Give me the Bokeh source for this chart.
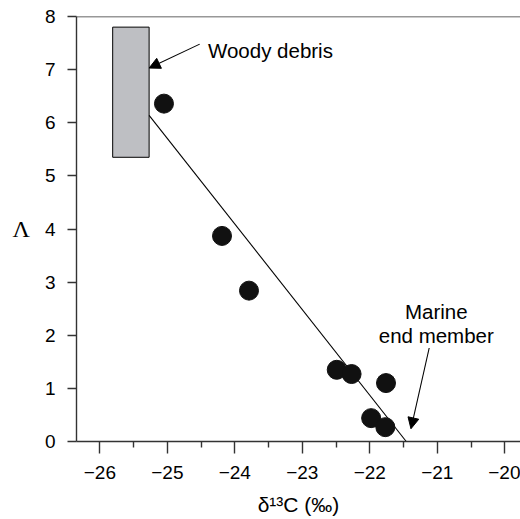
from bokeh.plotting import figure
from bokeh.models import FixedTicker, Range1d, Arrow, NormalHead, Label, Span
from bokeh.embed import file_html
from bokeh.resources import INLINE

# ---- data ----
sample_x = [-25.05, -24.19, -23.79, -22.49, -22.27, -21.76, -21.98, -21.77]
sample_y = [6.36, 3.87, 2.84, 1.35, 1.27, 1.10, 0.44, 0.27]

wood_x = [-25.81, -25.27]      # left, right of woody debris box
wood_y = [5.35, 7.80]          # bottom, top of woody debris box

mix_x = [-25.27, -21.46]       # mixing line
mix_y = [6.14, 0.0]

x_ticks = [-26, -25, -24, -23, -22, -21, -20]
x_tick_labels = ["\u221226", "\u221225", "\u221224", "\u221223", "\u221222", "\u221221", "\u221220"]
x_minor = [-25.5, -24.5, -23.5, -22.5, -21.5, -20.5]
y_ticks = [0, 1, 2, 3, 4, 5, 6, 7, 8]

wood_label = "Woody debris"
marine_label = ["Marine", "end member"]
x_title = "\u03b4\u00b9\u00b3C (\u2030)"
y_title = "\u039b"

FONT = "Liberation Sans"
AX = "#333333"

p = figure(width=520, height=519,
           x_range=Range1d(-26.346, -19.767), y_range=Range1d(0, 8),
           output_backend="svg", toolbar_location=None,
           min_border_left=76, min_border_right=0,
           min_border_top=16, min_border_bottom=78)
p.grid.visible = False
p.outline_line_color = None
p.background_fill_color = "white"
p.border_fill_color = "white"

# axes
for ax in (p.xaxis[0], p.yaxis[0]):
    ax.axis_line_color = AX
    ax.axis_line_width = 1.4
    ax.major_tick_line_color = AX
    ax.major_tick_line_width = 1.4
    ax.minor_tick_line_color = AX
    ax.minor_tick_line_width = 1.4
    ax.major_tick_in = 0
    ax.minor_tick_in = 0
    ax.major_label_text_font = FONT
    ax.major_label_text_font_size = "19px"
    ax.major_label_text_color = "black"
    ax.axis_label_text_font_style = "normal"
    ax.axis_label_text_color = "black"

xa = p.xaxis[0]
xa.ticker = FixedTicker(ticks=x_ticks, minor_ticks=x_minor)
xa.major_label_overrides = {t: s for t, s in zip(x_ticks, x_tick_labels)}
xa.major_tick_out = 12
xa.minor_tick_out = 6
xa.major_label_standoff = 12
xa.axis_label = x_title
xa.axis_label_text_font = FONT
xa.axis_label_text_font_size = "21px"
xa.axis_label_standoff = 11

ya = p.yaxis[0]
ya.ticker = FixedTicker(ticks=y_ticks, minor_ticks=[])
ya.major_tick_out = 9
ya.minor_tick_out = 0
ya.major_label_standoff = 12
ya.axis_label = y_title
ya.axis_label_text_font = "Liberation Serif"
ya.axis_label_text_font_size = "24px"
ya.axis_label_orientation = "horizontal"
ya.axis_label_standoff = 12

# top frame line
p.add_layout(Span(location=8, dimension="width", line_color=AX, line_width=1.6))

# woody debris box
p.quad(left=[wood_x[0]], right=[wood_x[1]], bottom=[wood_y[0]], top=[wood_y[1]],
       fill_color="#bebfc3", line_color="black", line_width=1)

# mixing line
p.line(mix_x, mix_y, line_color="black", line_width=1.1)

# samples
p.scatter(sample_x, sample_y, size=19, marker="circle",
          fill_color="#111111", line_color="#111111")

# annotations
p.add_layout(Label(x=-24.398, y=7.36, text=wood_label, text_font=FONT,
                   text_font_size="20.5px", text_color="black",
                   text_align="left", text_baseline="alphabetic"))
p.add_layout(Label(x=-21.015, y=2.447, text=marine_label[0], text_font=FONT,
                   text_font_size="20.5px", text_color="black",
                   text_align="center", text_baseline="alphabetic"))
p.add_layout(Label(x=-21.015, y=2.0, text=marine_label[1], text_font=FONT,
                   text_font_size="20.5px", text_color="black",
                   text_align="center", text_baseline="alphabetic"))

p.add_layout(Arrow(x_start=-24.52, y_start=7.48, x_end=-25.27, y_end=7.03,
                   line_color="black", line_width=1.1,
                   end=NormalHead(size=11, fill_color="black", line_color="black", line_width=1)))
p.add_layout(Arrow(x_start=-21.12, y_start=1.76, x_end=-21.39, y_end=0.24,
                   line_color="black", line_width=1.1,
                   end=NormalHead(size=11, fill_color="black", line_color="black", line_width=1)))

open("out.html", "w").write(file_html(p, INLINE))
